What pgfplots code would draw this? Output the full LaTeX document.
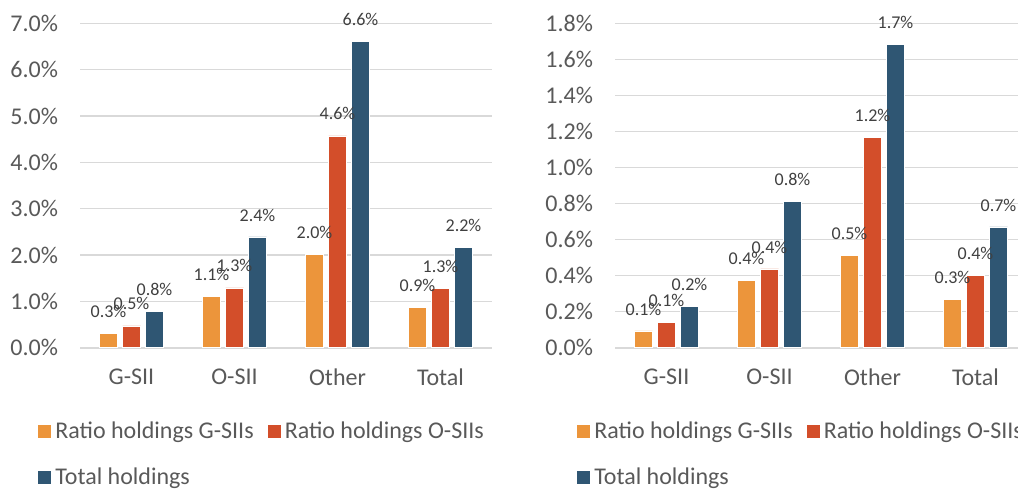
\documentclass[border=0pt]{standalone}
\usepackage{pgfplots}
\pgfplotsset{compat=1.18}
\usepackage{pgfplotstable}
\usepackage{fontspec}
\setmainfont{Carlito}

\definecolor{cOrange}{HTML}{EC953B}
\definecolor{cRed}{HTML}{D34E2A}
\definecolor{cBlue}{HTML}{2F5673}
\definecolor{cGrid}{HTML}{D9D9D9}
\definecolor{cTick}{HTML}{595959}
\definecolor{cLabel}{HTML}{404040}

% ratios in percent, categories at 0..3
\pgfplotstableread{
cat gsii osii total
0   0.31 0.47 0.78
1   1.10 1.29 2.39
2   2.02 4.57 6.60
3   0.87 1.28 2.16
}\leftdata
\pgfplotstableread{
cat gsii  osii  total
0   0.093 0.139 0.231
1   0.372 0.437 0.810
2   0.514 1.169 1.685
3   0.270 0.400 0.670
}\rightdata

\pgfplotsset{
  holdings/.style={
    scale only axis, width=206pt, height=162.2pt,
    ybar=2.5pt, bar width=9pt,
    xmin=-0.5, xmax=3.5, ymin=0,
    xtick={0,1,2,3}, xticklabels={G-SII,O-SII,Other,Total},
    axis x line*=bottom, axis y line*=left,
    x axis line style={cGrid, line width=0.8pt, -},
    y axis line style={draw=none},
    major tick length=0pt,
    ymajorgrids, grid style={cGrid, line width=0.8pt},
    /pgf/number format/assume math mode=true,
    tick label style={font=\fontsize{12}{14}\selectfont, text=cTick},
    yticklabel={\pgfmathprintnumber[fixed,fixed zerofill,precision=1]{\tick}\%},
    yticklabel style={xshift=-7.5pt},
    xticklabel style={yshift=-7pt},
    nodes near coords={\pgfmathprintnumber[fixed,fixed zerofill,precision=1]{\pgfplotspointmeta}\%},
    every node near coord/.append style={font=\fontsize{9}{11}\selectfont, text=cLabel, anchor=center, yshift=11pt},
    legend image code/.code={\fill[#1, draw=none] (0pt,-3.25pt) rectangle (6.5pt,3.25pt);},
    legend cell align=left,
    legend style={draw=none, fill=none, legend columns=2, at={(0,0)}, anchor=north west,
      font=\fontsize{12}{14}\selectfont, text=cTick, inner sep=0pt,
      /tikz/every even column/.append style={column sep=5pt},
      /tikz/row sep=9pt},
  },
  gs/.style={fill=cOrange, draw=white, line width=0.4pt},
  os/.style={fill=cRed, draw=white, line width=0.4pt},
  th/.style={fill=cBlue, draw=white, line width=0.4pt},
}

\begin{document}
\begin{tikzpicture}
\begin{axis}[holdings, ymax=7, ytick={0,1,...,7},
  legend style={xshift=-21pt, yshift=-35pt}]
\addplot[gs] table[x=cat,y=gsii]{\leftdata};
\addplot[os] table[x=cat,y=osii]{\leftdata};
\addplot[th] table[x=cat,y=total]{\leftdata};
\legend{Ratio holdings G-SIIs, Ratio holdings O-SIIs, Total holdings}
\end{axis}
\begin{axis}[holdings, at={(267.5pt,0pt)}, ymax=1.8, ytick={0,0.2,...,1.8},
  legend style={xshift=-19pt, yshift=-35pt}]
\addplot[gs] table[x=cat,y=gsii]{\rightdata};
\addplot[os] table[x=cat,y=osii]{\rightdata};
\addplot[th] table[x=cat,y=total]{\rightdata};
\legend{Ratio holdings G-SIIs, Ratio holdings O-SIIs, Total holdings}
\end{axis}
\pgfresetboundingbox
\useasboundingbox (-40pt,-70.15pt) rectangle (469pt,173.85pt);
\end{tikzpicture}
\end{document}
